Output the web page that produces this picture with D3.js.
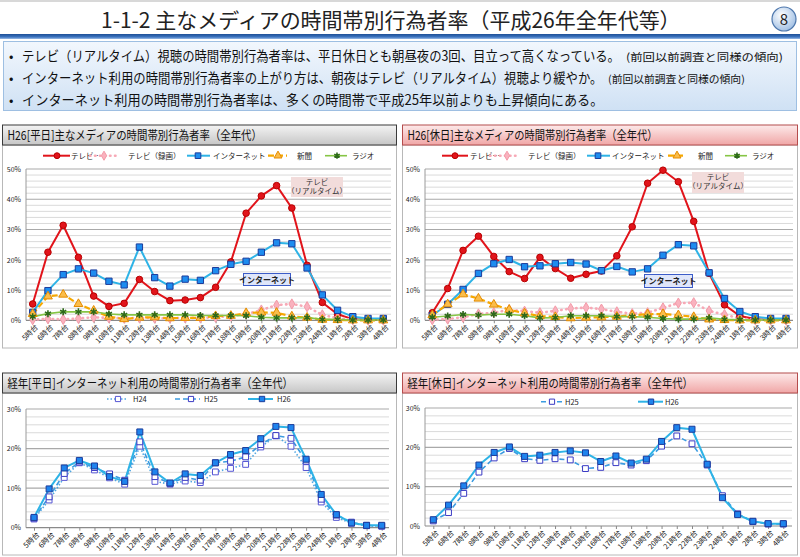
<!DOCTYPE html>
<html><head><meta charset="utf-8">
<script src="https://cdn.jsdelivr.net/npm/d3@7"></script>
<style>
body{margin:0;background:#fff}
svg{display:block}
text{font-family:"Noto Sans CJK JP","Noto Sans",sans-serif}
</style>
</head><body><svg id="c" width="800" height="557"></svg>
<script>
// ---------- data ----------
const hours = ["5時台","6時台","7時台","8時台","9時台","10時台","11時台","12時台","13時台","14時台","15時台","16時台","17時台","18時台","19時台","20時台","21時台","22時台","23時台","24時台","1時台","2時台","3時台","4時台"];
const mediaNames = ["テレビ…","テレビ（録画）","インターネット","新聞","ラジオ"];
const tvLiveWeekday = [5.4,22.5,31.4,20.8,8.0,4.6,5.6,13.5,9.5,6.5,6.7,7.5,10.9,19.3,35.4,41.1,44.5,37.1,18.2,5.9,2.0,0.4,0.2,0.1];
const tvRecWeekday  = [0.2,0.5,0.3,0.6,1.0,0.8,0.7,0.8,0.7,0.7,0.8,0.8,1.0,1.4,2.0,3.4,5.0,5.4,4.5,1.8,0.7,0.2,0.1,0.1];
const netWeekdayH26 = [2.6,9.8,15.1,17.0,15.6,12.9,11.7,24.2,14.1,11.3,13.6,13.2,16.4,18.5,19.5,22.5,25.6,25.3,17.3,8.4,3.3,1.2,0.6,0.6];
const newsWeekday   = [2.1,7.9,8.5,5.4,3.2,1.2,0.4,0.9,1.0,0.7,0.8,0.8,1.4,1.5,2.4,2.6,2.5,1.3,0.9,0.2,0.1,0.0,0.0,0.0];
const radioWeekday  = [1.2,2.2,2.8,2.8,2.8,2.1,1.8,1.8,1.8,1.8,1.8,1.6,1.6,1.6,1.5,1.0,0.8,0.8,0.9,0.3,0.3,0.1,0.1,0.1];

const tvLiveHoliday = [2.5,10.5,23.1,27.8,21.1,16.1,13.8,20.8,17.1,13.9,15.2,16.3,21.3,30.9,45.3,49.6,45.8,32.7,15.5,5.1,1.4,0.4,0.1,0.1];
const tvRecHoliday  = [0.2,0.4,1.0,2.1,2.5,3.5,3.0,2.5,3.1,3.9,4.2,3.7,2.8,2.2,2.5,4.1,5.7,5.8,3.1,1.9,0.6,0.2,0.1,0.1];
const netHolidayH26 = [1.6,5.3,10.2,15.5,18.7,20.1,17.7,18.0,18.7,19.1,18.6,16.4,17.8,16.0,17.0,21.5,25.0,24.6,15.7,7.2,2.9,1.2,0.6,0.6];
const newsHoliday   = [1.7,5.3,8.6,7.2,5.2,3.5,2.3,1.4,1.1,0.7,0.9,1.0,1.2,1.7,2.0,2.1,1.7,1.1,0.3,0.1,0.0,0.0,0.0,0.0];
const radioHoliday  = [1.0,1.4,1.9,1.7,2.0,2.0,1.5,0.8,0.9,1.5,1.5,1.5,1.2,1.2,1.0,0.6,0.4,0.4,0.8,0.3,0.2,0.1,0.1,0.1];

const netWeekdayH24 = [2.2,7.0,12.7,16.4,14.6,12.6,11.0,20.6,11.7,11.0,11.8,11.4,14.1,15.0,16.0,20.4,23.2,20.6,15.2,6.5,2.6,1.1,0.5,0.4];
const netWeekdayH25 = [2.4,7.8,13.7,16.6,15.2,13.6,12.0,21.7,12.9,11.2,12.7,12.0,16.4,16.8,17.9,21.0,23.3,22.6,16.8,7.2,3.2,1.4,0.6,0.4];
const netHolidayH25 = [1.3,3.4,8.3,13.7,17.3,19.7,17.1,16.7,17.1,16.8,14.6,14.9,16.1,15.5,16.6,20.3,22.9,20.9,15.5,7.7,3.1,1.1,0.5,0.5];

const ticks50 = [0,10,20,30,40,50];
const ticks30 = [0,10,20,30];
const yearNames = ["H24","H25","H26"];

const titleText = "1-1-2 主なメディアの時間帯別行為者率（平成26年全年代等）";
const bullets = [
  ["テレビ（リアルタイム）視聴の時間帯別行為者率は、平日休日とも朝昼夜の3回、目立って高くなっている。","(前回以前調査と同様の傾向)"],
  ["インターネット利用の時間帯別行為者率の上がり方は、朝夜はテレビ（リアルタイム）視聴より緩やか。","(前回以前調査と同様の傾向)"],
  ["インターネット利用の時間帯別行為者率は、多くの時間帯で平成25年以前よりも上昇傾向にある。",""]
];
const panelTitles = ["H26[平日]主なメディアの時間帯別行為者率（全年代）","H26[休日]主なメディアの時間帯別行為者率（全年代）","経年[平日]インターネット利用の時間帯別行為者率（全年代）","経年[休日]インターネット利用の時間帯別行為者率（全年代）"];

// ---------- drawing ----------
const svg = d3.select("#c");
const defs = svg.append("defs");
function lg(id, stops){
  const g = defs.append("linearGradient").attr("id",id).attr("x1",0).attr("y1",0).attr("x2",0).attr("y2",1);
  stops.forEach(([o,c])=>g.append("stop").attr("offset",o).attr("stop-color",c));
}
lg("grayBar",[[0,"#f4f4f4"],[1,"#c6c6c6"]]);
lg("pinkBar",[[0,"#fdeaea"],[1,"#f0a6a6"]]);
lg("bulletBg",[[0,"#f2f7fd"],[1,"#cfe1f4"]]);
lg("stripe",[[0,"#1d4f96"],[0.6,"#3c74c0"],[1,"#9dbde6"]]);
const rg = defs.append("radialGradient").attr("id","badge").attr("cx","40%").attr("cy","35%").attr("r","70%");
rg.append("stop").attr("offset",0).attr("stop-color","#ffffff");
rg.append("stop").attr("offset",1).attr("stop-color","#9dbde3");

// text scaled horizontally to fit [x0,x1]
function fitText(x0, x1, y, size, str, extra){
  const t = svg.append("text").attr("font-size",size).attr("fill","#111").text(str);
  if(extra) extra(t);
  const w = t.node().getComputedTextLength();
  const s = Math.min(1.2, (x1-x0)/w);
  t.attr("transform",`translate(${x0},${y}) scale(${s},1)`);
  return t;
}

// title
svg.append("rect").attr("x",0).attr("y",0).attr("width",800).attr("height",34).attr("fill","#fff");
svg.append("rect").attr("x",0).attr("y",0).attr("width",800).attr("height",2).attr("fill","#d8d8d8");
fitText(101,681,28,21,titleText,t=>t.attr("fill","#222"));
svg.append("circle").attr("cx",784).attr("cy",19).attr("r",12).attr("fill","url(#badge)").attr("stroke","#4f78ad").attr("stroke-width",1.2);
svg.append("text").attr("x",784).attr("y",24.5).attr("text-anchor","middle").attr("font-size",15).attr("fill","#222").text("8");
svg.append("rect").attr("x",0).attr("y",34).attr("width",800).attr("height",5).attr("fill","url(#stripe)");

// bullets
svg.append("rect").attr("x",3.5).attr("y",41.5).attr("width",793).attr("height",69).attr("fill","url(#bulletBg)").attr("stroke","#9ebfe2");
const bulletY = [61,83,104.5];
const mainEnd = [621,603,604];
const parenEnd = [783,745,0];
bullets.forEach((b,i)=>{
  svg.append("text").attr("x",9).attr("y",bulletY[i]).attr("font-size",13).attr("fill","#111").text("•");
  fitText(22,mainEnd[i],bulletY[i],14,b[0]);
  if(b[1]) fitText(mainEnd[i]+5,parenEnd[i],bulletY[i],10.5,b[1]);
});

// panels
const panels = [
  {x:2.5,w:394,y:125,bh:20,bottom:348,fill:"url(#grayBar)",stroke:"#3a3a3a",tEnd:262},
  {x:402.5,w:395,y:125,bh:20,bottom:348,fill:"url(#pinkBar)",stroke:"#b44c4c",tEnd:658},
  {x:2.5,w:394,y:373,bh:20,bottom:555,fill:"url(#grayBar)",stroke:"#3a3a3a",tEnd:293},
  {x:402.5,w:395,y:373,bh:20,bottom:555,fill:"url(#pinkBar)",stroke:"#b44c4c",tEnd:693}
];
panels.forEach((p,i)=>{
  svg.append("rect").attr("x",p.x).attr("y",p.y+p.bh).attr("width",p.w).attr("height",p.bottom-p.y-p.bh)
    .attr("fill","#fff").attr("stroke","#b8b8b8");
  svg.append("rect").attr("x",p.x).attr("y",p.y).attr("width",p.w).attr("height",p.bh)
    .attr("fill",p.fill).attr("stroke",p.stroke);
  fitText(p.x+5,p.tEnd,p.y+p.bh/2+4.5,12.5,panelTitles[i]);
});

const symCross = d3.symbolAsterisk || d3.symbolCross;
const mediaStyles = [
  {color:"#e1141b",w:2,dash:null,sym:d3.symbolCircle,size:34,fill:"#e1141b",stroke:"#b80000"},
  {color:"#f7a9b6",w:2.6,dash:"0.5,4.5",cap:"round",sym:d3.symbolDiamond,size:30,fill:"#f9b2be",stroke:"#f49aa8"},
  {color:"#2eb3e6",w:2,dash:null,sym:d3.symbolSquare,size:40,fill:"#1d8cf0",stroke:"#1c3c9a"},
  {color:"#f6a800",w:2.2,dash:"6,3",sym:d3.symbolTriangle,size:34,fill:"#fbbd4a",stroke:"#e58c00"},
  {color:"#86c545",w:1.6,dash:null,sym:symCross,size:34,fill:"none",stroke:"#2d6a1a",strokeW:1.6}
];
const yearStyles = [
  {color:"#4fa6e2",w:1.6,dash:"1.5,2",sym:d3.symbolSquare,size:34,fill:"#fff",stroke:"#5656d4"},
  {color:"#3b9be0",w:1.6,dash:"5,3",sym:d3.symbolSquare,size:34,fill:"#fff",stroke:"#3b3bc4"},
  {color:"#2eb3e6",w:2,dash:null,sym:d3.symbolSquare,size:36,fill:"#1f84ee",stroke:"#1c3c9a"}
];

function drawChart(cfg){
  const g = svg.append("g");
  const x = d3.scalePoint().domain(hours).range([cfg.x0,cfg.x1]);
  const y = d3.scaleLinear().domain([0,cfg.max]).range([cfg.yb,cfg.yt]);
  const minor = d3.range(2,cfg.max,2).filter(v=>v%10!==0);
  g.selectAll(".mn").data(minor).join("line").attr("x1",cfg.left).attr("x2",cfg.right)
    .attr("y1",d=>y(d)).attr("y2",d=>y(d)).attr("stroke","#dadada").attr("stroke-width",1);
  g.selectAll(".mj").data(cfg.ticks.filter(t=>t>0)).join("line").attr("x1",cfg.left).attr("x2",cfg.right)
    .attr("y1",d=>y(d)).attr("y2",d=>y(d)).attr("stroke","#a9a9a9").attr("stroke-width",1.2);
  g.append("line").attr("x1",cfg.left).attr("x2",cfg.left).attr("y1",cfg.yt).attr("y2",cfg.yb).attr("stroke","#9a9a9a");
  const ya = g.append("g").attr("transform",`translate(${cfg.left},0)`)
    .call(d3.axisLeft(y).tickValues(cfg.ticks).tickFormat(d=>d+"%").tickSize(0).tickPadding(5));
  ya.select(".domain").remove();
  ya.selectAll("text").attr("font-size",7).attr("fill","#222").attr("font-family","'Liberation Sans Narrow','Liberation Sans',sans-serif");
  const xa = g.append("g").attr("transform",`translate(0,${cfg.yb})`)
    .call(d3.axisBottom(x).tickSize(3).tickPadding(2));
  xa.select(".domain").remove();
  xa.selectAll("line").attr("stroke","#888");
  xa.selectAll("text").attr("font-size",7.4).attr("fill","#222").attr("text-anchor","end")
    .attr("transform","rotate(-45)").attr("dx","-0.2em").attr("dy","0.55em");
  g.append("line").attr("x1",cfg.left).attr("x2",cfg.right).attr("y1",cfg.yb).attr("y2",cfg.yb).attr("stroke","#8a8a8a").attr("stroke-width",1.2);

  (cfg.annos||[]).forEach(a=>a(g));

  const line = d3.line().x((d,i)=>x(hours[i])).y(d=>y(d));
  cfg.series.forEach((s,k)=>{
    const st = cfg.styles[k];
    g.append("path").datum(s).attr("d",line).attr("fill","none").attr("stroke",st.color)
      .attr("stroke-width",st.w).attr("stroke-dasharray",st.dash).attr("stroke-linecap",st.cap||"butt")
      .attr("stroke-linejoin","round");
  });
  cfg.series.forEach((s,k)=>{
    const st = cfg.styles[k];
    g.selectAll(null).data(s).join("path")
      .attr("d",d3.symbol(st.sym,st.size))
      .attr("transform",(d,i)=>`translate(${x(hours[i])},${y(d)})`)
      .attr("fill",st.fill).attr("stroke",st.stroke).attr("stroke-width",st.strokeW||1);
  });
  // legend
  cfg.legend.items.forEach((it,k)=>{
    const st = cfg.styles[k];
    const ly = cfg.legend.y;
    g.append("line").attr("x1",it[0]).attr("x2",it[1]).attr("y1",ly).attr("y2",ly)
      .attr("stroke",st.color).attr("stroke-width",st.w).attr("stroke-dasharray",st.dash).attr("stroke-linecap",st.cap||"butt");
    g.append("path").attr("d",d3.symbol(st.sym,st.size*0.8)).attr("transform",`translate(${it[2]},${ly})`)
      .attr("fill",st.fill).attr("stroke",st.stroke).attr("stroke-width",st.strokeW||1);
    g.append("text").attr("x",it[3]).attr("y",ly+3).attr("font-size",7.5).attr("fill","#222").text(cfg.legend.names[k]);
  });
}

function tvBox(bx,by,bw,bh){
  return g=>{
    g.append("rect").attr("x",bx).attr("y",by).attr("width",bw).attr("height",bh).attr("fill","#f2dcdb");
    g.append("text").attr("x",bx+bw/2).attr("y",by+7.5).attr("text-anchor","middle").attr("font-size",7.5).attr("fill","#333").text("テレビ");
    g.append("text").attr("x",bx+bw/2).attr("y",by+17).attr("text-anchor","middle").attr("font-size",7.5).attr("fill","#333").text("（リアルタイム）");
  };
}
function netBox(bx,by,bw,bh){
  return g=>{
    g.append("rect").attr("x",bx).attr("y",by).attr("width",bw).attr("height",bh).attr("fill","#dfe6fa").attr("stroke","#3c5cc8");
    g.append("text").attr("x",bx+bw/2).attr("y",by+bh/2+3).attr("text-anchor","middle").attr("font-size",8).attr("font-weight","bold").attr("fill","#222").text("インターネット");
  };
}

drawChart({x0:32.7,x1:383.3,yb:320.3,yt:169,max:50,ticks:ticks50,left:26,right:391,
  series:[tvLiveWeekday,tvRecWeekday,netWeekdayH26,newsWeekday,radioWeekday],styles:mediaStyles,
  annos:[tvBox(291,177,52,20),netBox(243.5,273.5,47,12)],
  legend:{y:155.7,names:mediaNames,items:[[43,70,57,71],[90,117,104,128],[187,210,198,213],[268,287,278,297],[325,347,337,352]]}});
drawChart({x0:432.3,x1:786,yb:320.3,yt:169,max:50,ticks:ticks50,left:425,right:793,
  series:[tvLiveHoliday,tvRecHoliday,netHolidayH26,newsHoliday,radioHoliday],styles:mediaStyles,
  annos:[tvBox(692,172,52,21),netBox(644.5,274.5,48,13)],
  legend:{y:155.7,names:mediaNames,items:[[442,468,455,470],[490,517,507,528],[587,610,598,612],[668,685,677,698],[725,747,737,752]]}});
drawChart({x0:34,x1:381.7,yb:527.7,yt:409,max:30,ticks:ticks30,left:26,right:389,
  series:[netWeekdayH24,netWeekdayH25,netWeekdayH26],styles:yearStyles,
  legend:{y:399,names:yearNames,items:[[107,127,118,133],[175,200,191,204],[248,273,262,277]]}});
drawChart({x0:433.3,x1:783.3,yb:526,yt:408,max:30,ticks:ticks30,left:425,right:792,
  series:[netHolidayH25,netHolidayH26],styles:[yearStyles[1],yearStyles[2]],
  legend:{y:401.7,names:["H25","H26"],items:[[541,563,552,565],[638,663,651,665]]}});
</script>
</body></html>
